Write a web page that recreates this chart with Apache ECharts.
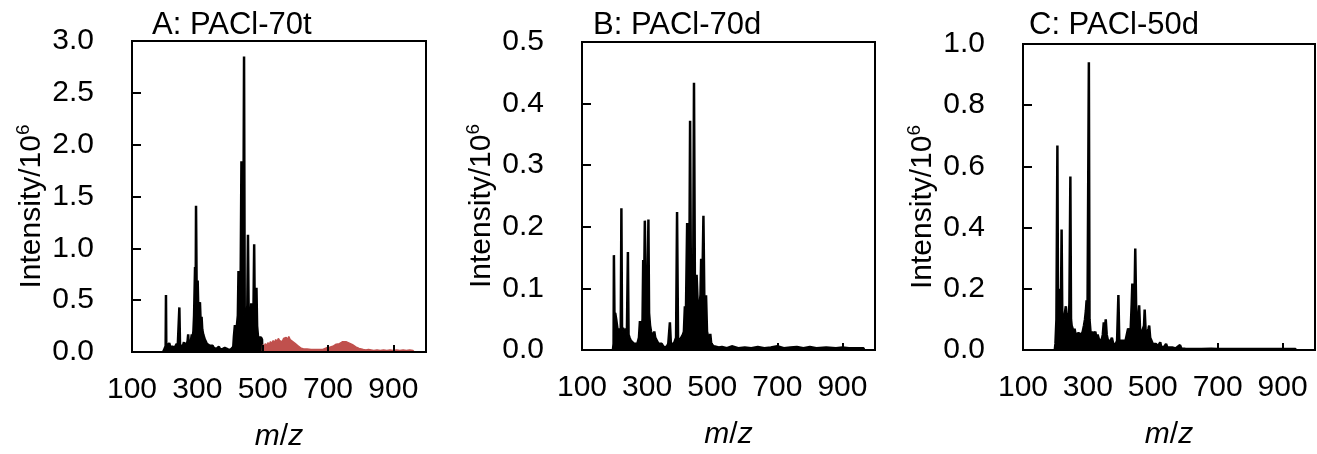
<!DOCTYPE html>
<html><head><meta charset="utf-8">
<script src="https://cdn.jsdelivr.net/npm/echarts@6/dist/echarts.min.js"></script>
<style>html,body{margin:0;padding:0;background:#fff}#c{width:1317px;height:454px}</style>
</head><body><div id="c"></div>
<script>
const xTicks = [100, 300, 500, 700, 900];
const yTicksA = [0, 0.5, 1.0, 1.5, 2.0, 2.5, 3.0];
const yTicksB = [0, 0.1, 0.2, 0.3, 0.4, 0.5];
const yTicksC = [0, 0.2, 0.4, 0.6, 0.8, 1.0];
const titles = ['A: PACl-70t', 'B: PACl-70d', 'C: PACl-50d'];

// Panel A, black part (m/z, intensity/10^6)
const spectrumA = [[195,0],[198,0.02],[201,0.04],[203,0.06],[204,0.55],[205,0.05],[208,0.06],[211,0.05],[214,0.085],[217,0.05],[220,0.06],[223,0.04],[226,0.05],[229,0.03],[232,0.05],[235,0.06],[237,0.08],[240,0.05],[243,0.06],[245,0.43],[247,0.06],[250,0.05],[253,0.07],[256,0.06],[259,0.095],[262,0.05],[265,0.04],[268,0.06],[270,0.1],[272,0.17],[274,0.06],[277,0.08],[280,0.1],[283,0.17],[285,0.12],[288,0.2],[290,0.35],[293,0.82],[295,0.6],[296,1.41],[298,0.55],[301,0.69],[303,0.4],[305,0.45],[308,0.48],[310,0.3],[313,0.34],[315,0.22],[318,0.17],[320,0.18],[323,0.12],[326,0.1],[329,0.08],[332,0.09],[335,0.07],[338,0.06],[341,0.07],[344,0.05],[347,0.06],[350,0.04],[354,0.05],[358,0.03],[362,0.04],[366,0.05],[369,0.03],[372,0.04],[376,0.025],[380,0.03],[384,0.04],[387,0.025],[390,0.04],[394,0.025],[398,0.03],[402,0.02],[406,0.03],[410,0.05],[412,0.15],[415,0.26],[418,0.2],[421,0.25],[424,0.35],[426,0.78],[429,0.3],[432,0.4],[435,1.84],[437,0.45],[440,0.35],[443,2.85],[445,0.4],[448,0.25],[451,0.3],[453,0.45],[455,1.13],[457,0.4],[460,0.25],[463,0.3],[465,0.47],[467,0.35],[470,0.3],[472,0.45],[474,1.04],[476,0.3],[478,0.35],[481,0.62],[483,0.25],[486,0.14],[489,0.15],[492,0.13],[495,0.14],[498,0.12],[499,0]];
// Panel A, red part
const spectrumAHigh = [[499,0],[500,0.07],[504,0.05],[508,0.08],[512,0.06],[516,0.09],[520,0.07],[524,0.1],[528,0.08],[532,0.11],[536,0.09],[540,0.12],[544,0.1],[548,0.13],[552,0.11],[556,0.12],[560,0.1],[564,0.13],[568,0.12],[572,0.14],[576,0.12],[580,0.15],[584,0.12],[588,0.13],[592,0.1],[596,0.09],[600,0.08],[604,0.07],[608,0.06],[612,0.05],[616,0.04],[620,0.035],[625,0.03],[630,0.025],[636,0.03],[642,0.02],[648,0.025],[654,0.02],[660,0.025],[666,0.02],[672,0.025],[678,0.03],[684,0.025],[690,0.035],[695,0.04],[700,0.05],[705,0.045],[710,0.06],[715,0.055],[720,0.07],[725,0.075],[730,0.085],[735,0.08],[740,0.095],[745,0.1],[750,0.095],[755,0.1],[760,0.09],[765,0.085],[770,0.08],[775,0.07],[780,0.06],[785,0.05],[790,0.04],[795,0.035],[800,0.03],[808,0.025],[816,0.02],[824,0.025],[832,0.02],[840,0.015],[850,0.02],[860,0.015],[870,0.02],[880,0.015],[890,0.02],[900,0.015],[910,0.02],[920,0.015],[930,0.02],[940,0.015],[950,0.02],[960,0.015],[964,0]];
// Panel B
const spectrumB = [[195,0],[197,0.01],[198,0.154],[200,0.04],[202,0.06],[205,0.05],[207,0.052],[210,0.03],[213,0.035],[216,0.025],[219,0.03],[221,0.23],[223,0.03],[226,0.036],[229,0.03],[232,0.02],[235,0.035],[238,0.03],[241,0.159],[243,0.025],[246,0.02],[250,0.015],[255,0.012],[260,0.01],[265,0.008],[270,0.01],[275,0.02],[278,0.047],[280,0.02],[283,0.03],[286,0.05],[288,0.146],[290,0.06],[293,0.21],[296,0.08],[299,0.1],[302,0.12],[304,0.212],[306,0.06],[309,0.04],[312,0.03],[315,0.025],[318,0.02],[322,0.03],[325,0.02],[330,0.015],[335,0.01],[340,0.008],[345,0.01],[350,0.005],[355,0.008],[360,0.005],[365,0.01],[370,0.045],[373,0.01],[378,0.008],[382,0.01],[386,0.012],[389,0.02],[392,0.224],[395,0.02],[400,0.015],[405,0.02],[410,0.025],[413,0.03],[416,0.071],[419,0.05],[423,0.206],[426,0.06],[429,0.05],[432,0.372],[435,0.06],[438,0.04],[441,0.05],[444,0.434],[447,0.08],[450,0.09],[452,0.122],[455,0.08],[458,0.06],[461,0.07],[464,0.09],[466,0.148],[469,0.08],[473,0.218],[476,0.07],[478,0.05],[481,0.089],[484,0.03],[488,0.02],[491,0.015],[494,0.026],[497,0.01],[500,0.008],[505,0.006],[510,0.005],[520,0.004],[530,0.005],[545,0.003],[560,0.006],[580,0.003],[600,0.004],[620,0.003],[640,0.005],[660,0.003],[680,0.004],[700,0.006],[720,0.003],[740,0.004],[760,0.005],[780,0.003],[800,0.005],[820,0.003],[850,0.004],[880,0.003],[900,0.004],[920,0.003],[940,0.003],[965,0.003],[966,0]];
// Panel C
const spectrumC = [[198,0],[200,0.02],[203,0.1],[206,0.668],[208,0.12],[211,0.1],[214,0.2],[217,0.15],[219,0.394],[221,0.12],[224,0.11],[227,0.1],[229,0.12],[232,0.143],[234,0.1],[237,0.12],[240,0.1],[243,0.15],[246,0.567],[248,0.1],[250,0.08],[253,0.08],[256,0.06],[259,0.07],[262,0.05],[265,0.055],[268,0.05],[271,0.055],[274,0.05],[277,0.055],[280,0.05],[284,0.06],[288,0.08],[291,0.1],[294,0.13],[296,0.162],[299,0.15],[303,0.94],[305,0.1],[308,0.06],[311,0.05],[314,0.06],[317,0.05],[320,0.045],[323,0.06],[326,0.04],[330,0.05],[334,0.035],[338,0.04],[342,0.03],[346,0.05],[349,0.09],[352,0.06],[355,0.1],[358,0.05],[362,0.03],[366,0.035],[370,0.03],[374,0.04],[378,0.02],[382,0.015],[386,0.02],[390,0.03],[394,0.18],[397,0.02],[400,0.03],[404,0.025],[408,0.03],[412,0.025],[416,0.03],[420,0.035],[424,0.07],[428,0.06],[432,0.07],[435,0.15],[437,0.217],[440,0.2],[443,0.12],[446,0.332],[449,0.12],[452,0.07],[455,0.1],[458,0.146],[461,0.06],[464,0.05],[467,0.06],[470,0.07],[473,0.08],[475,0.132],[478,0.06],[481,0.05],[484,0.06],[487,0.07],[489,0.08],[492,0.04],[496,0.03],[500,0.02],[505,0.015],[510,0.02],[515,0.01],[520,0.015],[523,0.025],[526,0.01],[530,0.012],[535,0.01],[541,0.02],[545,0.008],[550,0.006],[560,0.008],[570,0.005],[575,0.004],[584,0.016],[588,0.005],[600,0.004],[620,0.003],[650,0.003],[680,0.004],[700,0.003],[750,0.003],[800,0.003],[850,0.003],[900,0.003],[940,0.003],[941,0]];

const FONT = 'Liberation Sans, Arial, sans-serif';
const grids = [
  {left: 132, top: 41, width: 294, height: 311},
  {left: 582, top: 42, width: 293, height: 308},
  {left: 1023, top: 44, width: 292, height: 306}
];
const titleLefts = [152, 593, 1029];
const yTickSets = [yTicksA, yTicksB, yTicksC];
const LW = 2.5;

const option = {
  animation: false,
  backgroundColor: '#fff',
  title: titles.map((t, i) => ({
    text: t, left: titleLefts[i], top: 10, padding: 0,
    textStyle: {fontSize: 31, fontWeight: 'normal', color: '#000', fontFamily: FONT}
  })),
  grid: grids.map(g => Object.assign({show: true, borderColor: '#000', borderWidth: 2, backgroundColor: 'transparent',
    containLabel: false, outerBoundsMode: 'none'}, g)),
  xAxis: grids.map((g, i) => ({
    gridIndex: i, type: 'value', min: 100, max: 1000, interval: 200, z: 5,
    axisLine: {show: true, onZero: false, lineStyle: {color: '#000', width: 2}},
    axisTick: {show: true, inside: true, length: 7, lineStyle: {color: '#000', width: 2}},
    axisLabel: {margin: 23, fontSize: 30, color: '#000', fontFamily: FONT,
      formatter: v => xTicks.includes(v) ? String(v) : ''},
    splitLine: {show: false},
    name: '{i|m}/{i|z}', nameLocation: 'middle', nameGap: 70,
    nameTextStyle: {fontSize: 30, color: '#000', fontFamily: FONT,
      rich: {i: {fontStyle: 'italic', fontSize: 30, color: '#000', fontFamily: FONT}}}
  })),
  yAxis: yTickSets.map((ts, i) => ({
    gridIndex: i, type: 'value', min: ts[0], max: ts[ts.length - 1], interval: ts[1] - ts[0],
    axisLine: {show: true, lineStyle: {color: '#000', width: 2}},
    axisTick: {show: true, inside: true, length: 9, lineStyle: {color: '#000', width: 2}},
    axisLabel: {margin: 38, fontSize: 30, color: '#000', fontFamily: FONT,
      formatter: v => Number(v).toFixed(1)},
    splitLine: {show: false},
    name: 'Intensity/10{s|6}', nameLocation: 'middle', nameGap: 80,
    nameTextStyle: {fontSize: 30, color: '#000', fontFamily: FONT, lineHeight: 34, padding: [0, 20, 0, 0],
      rich: {s: {fontSize: 19, lineHeight: 20, verticalAlign: 'top', color: '#000', fontFamily: FONT}}}
  })),
  series: [
    {type: 'line', xAxisIndex: 0, yAxisIndex: 0, data: spectrumA, symbol: 'none', z: 2,
     lineStyle: {color: '#000', width: LW}, itemStyle: {color: '#000'}, areaStyle: {color: '#000', opacity: 1}},
    {type: 'line', xAxisIndex: 0, yAxisIndex: 0, data: spectrumAHigh, symbol: 'none', z: 2,
     lineStyle: {color: '#C0504D', width: 1.5}, itemStyle: {color: '#C0504D'}, areaStyle: {color: '#C0504D', opacity: 1}},
    {type: 'line', xAxisIndex: 1, yAxisIndex: 1, data: spectrumB, symbol: 'none', z: 2,
     lineStyle: {color: '#000', width: LW}, itemStyle: {color: '#000'}, areaStyle: {color: '#000', opacity: 1}},
    {type: 'line', xAxisIndex: 2, yAxisIndex: 2, data: spectrumC, symbol: 'none', z: 2,
     lineStyle: {color: '#000', width: LW}, itemStyle: {color: '#000'}, areaStyle: {color: '#000', opacity: 1}}
  ]
};
const chart = echarts.init(document.getElementById('c'), null, {renderer: 'canvas'});
chart.setOption(option);
</script></body></html>
